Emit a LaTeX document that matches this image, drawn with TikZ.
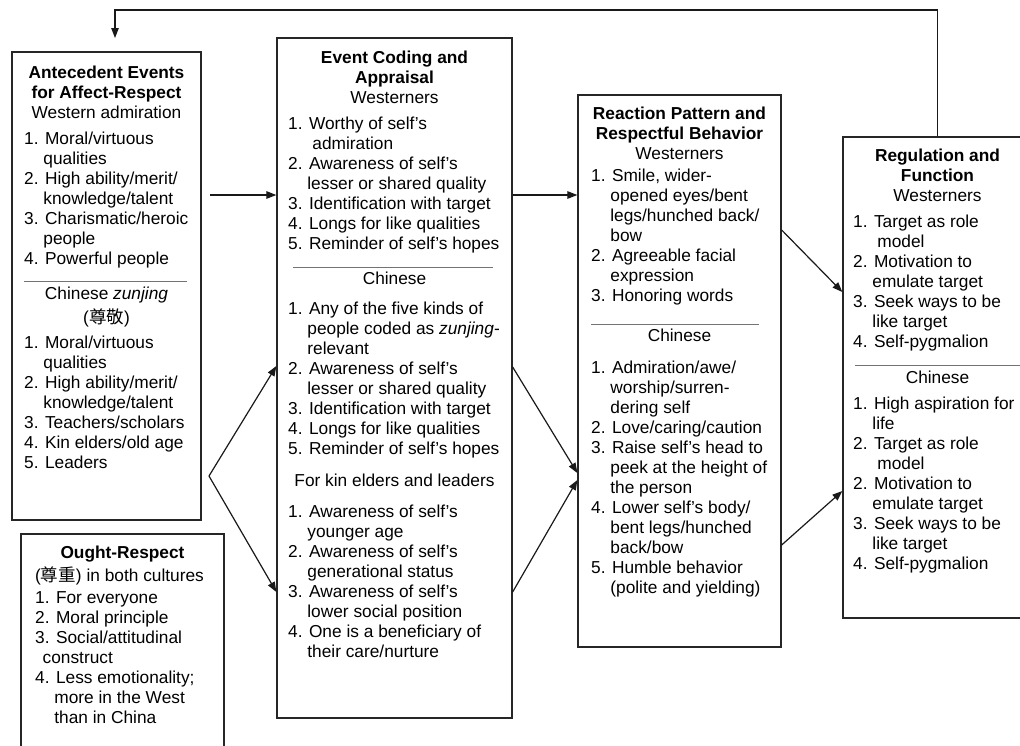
\documentclass[tikz,border=0pt]{standalone}
\usepackage{fontspec}
\setmainfont{Liberation Sans}
\newfontfamily\cjk{Noto Sans CJK SC}
\usetikzlibrary{arrows.meta}
% hanging indent of a numbered item ("1. ")
\newlength\numw \setlength\numw{19.2pt}
\newcommand\ind{\hspace*{\numw}}
% fixed-height strut that sets the top of every text block
\newcommand\topstrut{\rule{0pt}{16pt}}
\newcommand\zh[1]{{\cjk\fontsize{17.5}{20}\selectfont #1}}
\tikzset{
  panel/.style={draw=black!85, line width=1.3pt, inner sep=0pt},
  txt/.style={inner sep=0pt, font=\fontsize{17.3}{20}\selectfont, text=black},
  lst/.style={txt, anchor=north west, align=left},
  hdr/.style={txt, anchor=north, align=center},
  sep/.style={draw=black!55, line width=0.8pt},
  conn/.style={draw=black!90, line width=1.2pt, -{Triangle[length=10pt,width=7.5pt]}},
}
\begin{document}
\begin{tikzpicture}[x=1pt,y=-1pt]
\path[use as bounding box, clip] (0,0) rectangle (1020,745);
\fill[white] (0,0) rectangle (1020,745);

% ---- frames
\node[panel, minimum width=189pt, minimum height=468pt] (ant)   at (106.5,286)   {};
\node[panel, minimum width=203pt, minimum height=246pt] (ought) at (122.5,657)   {};
\node[panel, minimum width=235pt, minimum height=680pt] (evt)   at (394.5,378)   {};
\node[panel, minimum width=203pt, minimum height=552pt] (react) at (679.5,371)   {};
\node[panel, minimum width=189pt, minimum height=481pt] (reg)   at (937.5,377.5) {};

% ---- antecedent events
\node[hdr] (antH) at (106.5,62) {\topstrut\textbf{Antecedent Events}\\\textbf{for Affect-Respect}\\Western admiration};
\node[lst] (antW) at (24,128) {\topstrut 1. Moral/virtuous\\\ind qualities\\2. High ability/merit/\\\ind knowledge/talent\\3. Charismatic/heroic\\\ind people\\4. Powerful people};
\draw[sep] (24,281) -- (187,281);
\node[hdr] (antC) at (106.5,283) {\topstrut Chinese \textit{zunjing}\\[4pt](\zh{尊敬})};
\node[lst] (antCL) at (24,332) {\topstrut 1. Moral/virtuous\\\ind qualities\\2. High ability/merit/\\\ind knowledge/talent\\3. Teachers/scholars\\4. Kin elders/old age\\5. Leaders};

% ---- ought-respect
\node[hdr] (ouH) at (122.5,542) {\topstrut\textbf{Ought-Respect}};
\node[lst] (ouL) at (35,565) {\topstrut(\zh{尊重}) in both cultures\\[2pt]1. For everyone\\2. Moral principle\\3. Social/attitudinal\\\hspace*{7.5pt}construct\\4. Less emotionality;\\\ind more in the West\\\ind than in China};

% ---- event coding and appraisal
\node[hdr] (evtH) at (394.5,47) {\topstrut\textbf{Event Coding and}\\\textbf{Appraisal}\\Westerners};
\node[lst] (evtW) at (288,113) {\topstrut 1. Worthy of self's\\\ind\hspace*{5pt}admiration\\2. Awareness of self's\\\ind lesser or shared quality\\3. Identification with target\\4. Longs for like qualities\\5. Reminder of self's hopes};
\draw[sep] (293,267) -- (493,267);
\node[hdr] (evtC) at (394.5,268) {\topstrut Chinese};
\node[lst] (evtCL) at (288,298) {\topstrut 1. Any of the five kinds of\\\ind people coded as \textit{zunjing}-\\\ind relevant\\2. Awareness of self's\\\ind lesser or shared quality\\3. Identification with target\\4. Longs for like qualities\\5. Reminder of self's hopes};
\node[hdr] (evtK) at (394.5,470) {\topstrut For kin elders and leaders};
\node[lst] (evtKL) at (288,501) {\topstrut 1. Awareness of self's\\\ind younger age\\2. Awareness of self's\\\ind generational status\\3. Awareness of self's\\\ind lower social position\\4. One is a beneficiary of\\\ind their care/nurture};

% ---- reaction pattern
\node[hdr] (reaH) at (679.5,103) {\topstrut\textbf{Reaction Pattern and}\\\textbf{Respectful Behavior}\\Westerners};
\node[lst] (reaW) at (591,165) {\topstrut 1. Smile, wider-\\\ind opened eyes/bent\\\ind legs/hunched back/\\\ind bow\\2. Agreeable facial\\\ind expression\\3. Honoring words};
\draw[sep] (591,324) -- (759,324);
\node[hdr] (reaC) at (679.5,325) {\topstrut Chinese};
\node[lst] (reaCL) at (591,357) {\topstrut 1. Admiration/awe/\\\ind worship/surren-\\\ind dering self\\2. Love/caring/caution\\3. Raise self's head to\\\ind peek at the height of\\\ind the person\\4. Lower self's body/\\\ind bent legs/hunched\\\ind back/bow\\5. Humble behavior\\\ind (polite and yielding)};

% ---- regulation and function
\node[hdr] (regH) at (937.5,145) {\topstrut\textbf{Regulation and}\\\textbf{Function}\\Westerners};
\node[lst] (regW) at (853,211) {\topstrut 1. Target as role\\\ind\hspace*{5pt}model\\2. Motivation to\\\ind emulate target\\3. Seek ways to be\\\ind like target\\4. Self-pygmalion};
\draw[sep] (855,365) -- (1020,365);
\node[hdr] (regC) at (937.5,367) {\topstrut Chinese};
\node[lst] (regCL) at (853,393) {\topstrut 1. High aspiration for\\\ind life\\2. Target as role\\\ind\hspace*{5pt}model\\2. Motivation to\\\ind emulate target\\3. Seek ways to be\\\ind like target\\4. Self-pygmalion};

% ---- connectors
\coordinate (fbR)   at (937.5,10);
\coordinate (fbL)   at (115,10);
\coordinate (fbEnd) at (115,38);
\draw[conn] (reg.north) -- (fbR) -- (fbL) -- (fbEnd);

\coordinate (antOut) at (210,195);
\draw[conn] (antOut) -- (evt.west |- antOut);
\draw[conn] (evt.east |- antOut) -- (react.west |- antOut);

\coordinate (fork) at (209,476);
\draw[conn] (fork) -- (evt.west |- 0,366);
\draw[conn] (fork) -- (evt.west |- 0,592);

\draw[conn] (evt.east |- 0,367) -- (react.west |- 0,473);
\draw[conn] (evt.east |- 0,592) -- (react.west |- 0,480);

\draw[conn] (react.east |- 0,230) -- (reg.west |- 0,292);
\draw[conn] (react.east |- 0,545) -- (reg.west |- 0,491);
\end{tikzpicture}
\end{document}
